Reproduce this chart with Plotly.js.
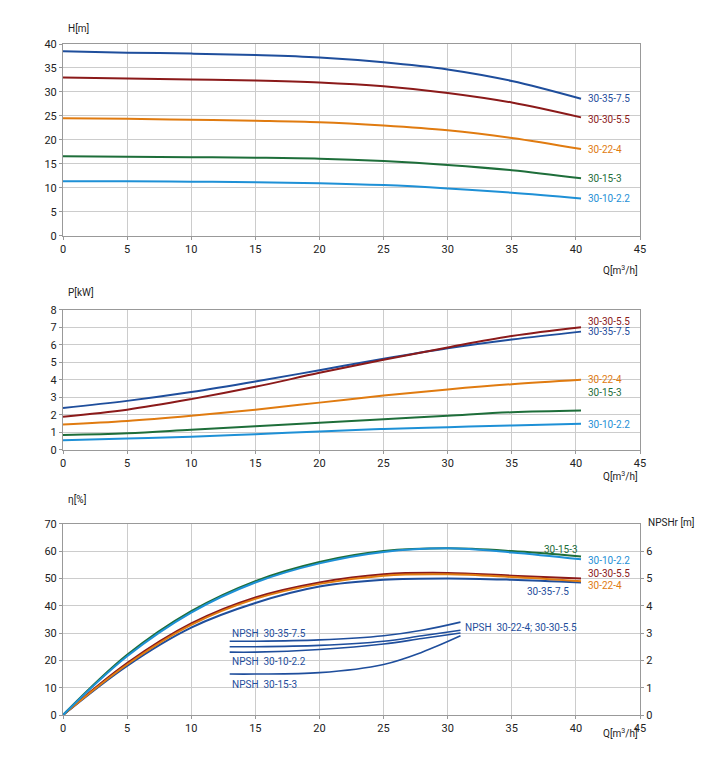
<!DOCTYPE html>
<html><head><meta charset="utf-8">
<script src="https://cdn.plot.ly/plotly-3.0.1.min.js"></script>
<style>body{margin:0}</style></head>
<body><div id="graph" style="width:720px;height:771px"></div>
<script>
// Q points for H, P and eta curves
var q = [0, 5, 10, 15, 20, 25, 30, 35, 40.4];
var pumps = ['30-35-7.5', '30-30-5.5', '30-22-4', '30-15-3', '30-10-2.2'];
var colors = ['#1f4e9c', '#8b1a1a', '#e07b10', '#1e6e3a', '#1e90d6'];

var head = [
  [38.5, 38.2, 38.0, 37.7, 37.2, 36.2, 34.7, 32.3, 28.6],
  [33.0, 32.8, 32.6, 32.4, 32.0, 31.2, 29.8, 27.8, 24.7],
  [24.5, 24.4, 24.2, 24.0, 23.7, 23.0, 22.0, 20.4, 18.1],
  [16.6, 16.5, 16.4, 16.3, 16.1, 15.6, 14.8, 13.7, 12.0],
  [11.4, 11.4, 11.3, 11.2, 11.0, 10.6, 9.9, 9.0, 7.8]
];
var power = [
  [2.4, 2.8, 3.3, 3.9, 4.55, 5.2, 5.8, 6.3, 6.75],
  [1.9, 2.3, 2.9, 3.6, 4.4, 5.15, 5.85, 6.5, 7.0],
  [1.45, 1.65, 1.95, 2.3, 2.7, 3.1, 3.45, 3.75, 4.0],
  [0.85, 0.95, 1.15, 1.35, 1.55, 1.75, 1.95, 2.15, 2.25],
  [0.55, 0.65, 0.75, 0.9, 1.05, 1.2, 1.3, 1.4, 1.5]
];
var eff = [
  [0, 18, 32, 41, 47, 49.5, 50, 49.5, 48.5],
  [0, 19, 33.5, 43, 48.5, 51.5, 52, 51, 50],
  [0, 18.5, 33, 42.5, 48, 51, 51.5, 50.5, 49],
  [0, 22, 38, 49, 56, 60, 61, 60, 58],
  [0, 21.5, 37.5, 48.5, 55.5, 59.7, 61, 59.5, 57]
];

var qN = [13, 15, 20, 25, 28, 31];
var npsh = [
  [2.7, 2.7, 2.75, 2.9, 3.1, 3.4],
  [2.5, 2.5, 2.55, 2.7, 2.9, 3.1],
  [2.3, 2.3, 2.4, 2.6, 2.8, 3.0],
  [1.5, 1.5, 1.55, 1.85, 2.3, 2.9]
];
var npshColor = '#1f4e9c';

var data = [];
pumps.forEach(function (p, i) {
  var ln = {color: colors[i], width: 2, shape: 'spline'};
  data.push({x: q, y: head[i], mode: 'lines', line: ln, xaxis: 'x', yaxis: 'y'});
  data.push({x: q, y: power[i], mode: 'lines', line: ln, xaxis: 'x2', yaxis: 'y2'});
  data.push({x: q, y: eff[i], mode: 'lines', line: ln, xaxis: 'x3', yaxis: 'y3'});
});
npsh.forEach(function (n) {
  data.push({x: qN, y: n, mode: 'lines', line: {color: npshColor, width: 1.6, shape: 'spline'}, xaxis: 'x3', yaxis: 'y4'});
});

var f = {family: 'Roboto', size: 11, color: '#222'};
function xa(anchor) {
  return {range: [0, 45], dtick: 5, anchor: anchor, showline: true, linecolor: '#999', gridcolor: '#ccc', zeroline: false, ticks: 'outside', ticklen: 3, tickcolor: '#999', tickfont: f, mirror: true};
}
function ya(anchor, dom, r, dt) {
  return {domain: dom, range: r, dtick: dt, anchor: anchor, showline: true, linecolor: '#999', gridcolor: '#ccc', zeroline: false, ticks: 'outside', ticklen: 3, tickcolor: '#999', tickfont: f, mirror: true};
}

var layout = {
  width: 720, height: 771, showlegend: false,
  margin: {l: 63, r: 80, t: 44, b: 56},
  plot_bgcolor: '#fff', paper_bgcolor: '#fff', font: f,
  xaxis: xa('y'), yaxis: ya('x', [0.714, 1], [0, 40], 5),
  xaxis2: xa('y2'), yaxis2: ya('x2', [0.395, 0.604], [0, 8], 1),
  xaxis3: xa('y3'), yaxis3: ya('x3', [0, 0.285], [0, 70], 10),
  yaxis4: {overlaying: 'y3', side: 'right', range: [0, 7], tickvals: [0, 1, 2, 3, 4, 5, 6], showgrid: false, zeroline: false, ticks: 'outside', ticklen: 3, tickcolor: '#999', tickfont: f, anchor: 'x3'},
  annotations: []
};
var A = layout.annotations;
function lab(t, x, y, xr, yr, c, xa2) {
  A.push({text: t, x: x, y: y, xref: xr, yref: yr, showarrow: false, xanchor: xa2 || 'left', font: {family: 'Roboto', size: 10, color: c}});
}
// axis titles
lab('H[m]', 0.005, 1.035, 'paper', 'paper', '#222');
lab('P[kW]', 0.005, 0.63, 'paper', 'paper', '#222');
lab('η[%]', 0.005, 0.31, 'paper', 'paper', '#222');
lab('NPSHr [m]', 1.01, 0.275, 'paper', 'paper', '#222');
[0.675, 0.356, -0.039].forEach(function (y) { lab('Q[m<sup>3</sup>/h]', 1.0, y, 'paper', 'paper', '#222', 'right'); });

// curve labels
var hy = [28.6, 24.3, 18.1, 12.0, 7.8];
var py = [6.75, 7.35, 4.0, 3.3, 1.45];
pumps.forEach(function (p, i) {
  lab(p, 40.8, hy[i], 'x', 'y', colors[i]);
  lab(p, 40.8, py[i], 'x2', 'y2', colors[i]);
});
lab('30-15-3', 40.3, 60.5, 'x3', 'y3', colors[3], 'right');
lab('30-10-2.2', 40.8, 56.5, 'x3', 'y3', colors[4]);
lab('30-30-5.5', 40.8, 51.8, 'x3', 'y3', colors[1]);
lab('30-22-4', 40.8, 47.3, 'x3', 'y3', colors[2]);
lab('30-35-7.5', 39.6, 45.2, 'x3', 'y3', colors[0], 'right');
lab('NPSH  30-35-7.5', 13, 3.0, 'x3', 'y4', npshColor);
lab('NPSH  30-22-4; 30-30-5.5', 31.2, 3.2, 'x3', 'y4', npshColor);
lab('NPSH  30-10-2.2', 13, 1.95, 'x3', 'y4', npshColor);
lab('NPSH  30-15-3', 13, 1.1, 'x3', 'y4', npshColor);

Plotly.newPlot('graph', data, layout, {displayModeBar: false});
</script>
</body></html>
